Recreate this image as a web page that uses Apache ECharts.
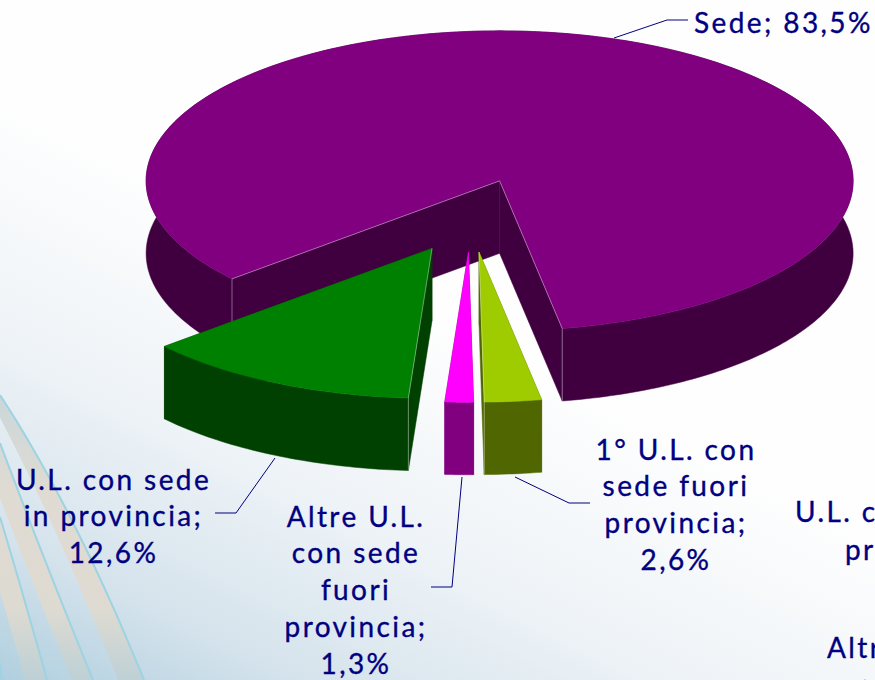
<!DOCTYPE html>
<html><head><meta charset="utf-8">
<style>html,body{margin:0;padding:0;background:#fff}#c{width:875px;height:680px;overflow:hidden}#c text{letter-spacing:2.4px;stroke:#000080;stroke-width:.35px}</style>
<script src="https://cdn.jsdelivr.net/npm/echarts@6/dist/echarts.min.js"></script>
</head><body><div id="c"></div>
<script>
// data (clockwise from the first slice)
const sliceNames = ['Sede', '1° U.L. con sede fuori provincia', 'Altre U.L. con sede fuori provincia', 'U.L. con sede in provincia'];
const sliceValues = [83.5, 2.6, 1.3, 12.6];
const sliceLabels = ['Sede; 83,5%', '1° U.L. con\nsede fuori\nprovincia;\n2,6%', 'Altre U.L.\ncon sede\nfuori\nprovincia;\n1,3%', 'U.L. con sede\nin provincia;\n12,6%'];
const topColors = ['#800080', '#9FCC00', '#FF00FF', '#008000'];
const sideColors = ['#400040', '#506600', '#800080', '#004000'];
const paintOrder = [0, 3, 2, 1];
// layout
const CX = 470.7, CY = 215.5, RX = 353.5, RY = 150, DEPTH = 72.5, EXPLODE = 0.245, FIRST_ANGLE = 229.2;
const FONT = '28px Lato, sans-serif', NAVY = '#000080', LH = 36.8;
const labelPos = [[694, 21.5, 'left'], [676, 448.5, 'center'], [356, 515.5, 'center'], [113.5, 478.5, 'center']];
const leaders = [
  [[614, 38], [667, 20], [688, 20]],
  [[515, 477], [569, 503], [590, 503]],
  [[462, 477], [452, 587], [431, 587]],
  [[275, 458], [236, 513], [215, 513]]
];
const clippedTexts = [['U.L. con sede', 795, 510.5], ['provincia;', 845, 548.5], ['Altre U.L.', 827, 646.5], ['con sede', 857, 684]];

const total = sliceValues.reduce((a, b) => a + b, 0);
const starts = []; let acc = FIRST_ANGLE;
sliceValues.forEach(v => { starts.push(acc); acc += v / total * 360; });
const rad = d => d * Math.PI / 180;

function renderItem(params, api) {
  const i = api.value(0), a0 = starts[i], a1 = a0 + api.value(1) / total * 360, mid = rad((a0 + a1) / 2);
  const ox = CX + EXPLODE * RX * Math.sin(mid), oy = CY - EXPLODE * RY * Math.cos(mid);
  const pt = (a, dz) => [ox + RX * Math.sin(rad(a)), oy - RY * Math.cos(rad(a)) + dz];
  const arc = [], n = Math.max(2, Math.ceil(a1 - a0));
  for (let k = 0; k <= n; k++) arc.push(a0 + (a1 - a0) * k / n);
  const poly = (points, fill) => ({ type: 'polygon', shape: { points }, style: { fill, stroke: fill, lineWidth: 0.5 }, silent: true });
  const edge = points => ({ type: 'polyline', shape: { points }, style: { fill: 'none', stroke: 'rgba(255,255,255,0.38)', lineWidth: 1 }, silent: true });
  const side = sideColors[i], children = [];
  [a0, a1].forEach(a => children.push(poly([[ox, oy], pt(a, 0), pt(a, DEPTH), [ox, oy + DEPTH]], side)));
  children.push(poly(arc.map(a => pt(a, 0)).concat(arc.slice().reverse().map(a => pt(a, DEPTH))), side));
  children.push(poly([[ox, oy]].concat(arc.map(a => pt(a, 0))), topColors[i]));
  if (Math.sin(rad(a0)) < 0) { children.push(edge([[ox, oy], pt(a0, 0)]), edge([pt(a0, 0), pt(a0, DEPTH)])); }
  if (Math.sin(rad(a1)) > 0) { children.push(edge([[ox, oy], pt(a1, 0)]), edge([pt(a1, 0), pt(a1, DEPTH)])); }
  return { type: 'group', children };
}

// decorative background curves: [start, control, end]
const quad = (c, steps) => {
  const out = [];
  for (let k = 0; k <= steps; k++) {
    const t = k / steps, u = 1 - t;
    out.push([u * u * c[0][0] + 2 * u * t * c[1][0] + t * t * c[2][0], u * u * c[0][1] + 2 * u * t * c[1][1] + t * t * c[2][1]]);
  }
  return out;
};
const beige = { type: 'linear', global: true, x: 0, y: 395, x2: 0, y2: 680, colorStops: [
  { offset: 0, color: 'rgba(200,212,214,0.9)' }, { offset: 0.35, color: 'rgba(224,218,207,0.9)' }, { offset: 0.75, color: 'rgba(224,218,207,0.9)' }, { offset: 1, color: 'rgba(190,208,212,0.9)' }] };
const line1 = [[0, 395], [75, 510], [144, 680]], line2 = [[0, 443], [40, 550], [93, 680]], line3 = [[0, 517], [22, 590], [47, 680]];
const bands = [
  [line1, [[-12, 395], [55, 520], [118, 680]]],
  [line2, [[-21, 443], [19, 550], [72, 680]]],
  [line3, [[-22, 517], [0, 590], [25, 680]]]
];
const blueLines = [line1, line2, line3, [[0, 663], [1, 672], [2, 680]]];
const graphics = [{
  type: 'rect', z: -10, silent: true, shape: { x: 0, y: 0, width: 875, height: 680 },
  style: { fill: { type: 'linear', global: true, x: 0, y: 100, x2: -232, y2: 564, colorStops: [
    { offset: 0, color: '#fefefe' }, { offset: 0.41, color: '#eef3f7' }, { offset: 0.74, color: '#d5e3ec' }, { offset: 1, color: '#b0cfdf' }] } }
}];
bands.forEach(b => graphics.push({ type: 'polygon', z: -9, silent: true, shape: { points: quad(b[0], 30).concat(quad(b[1], 30).reverse()) }, style: { fill: beige } }));
blueLines.forEach(c => graphics.push({ type: 'polyline', z: -8, silent: true, shape: { points: quad(c, 30) }, style: { fill: 'none', stroke: '#9dd3e3', lineWidth: 2 } }));
leaders.forEach(p => graphics.push({ type: 'polyline', z: 5, silent: true, shape: { points: p }, style: { fill: 'none', stroke: NAVY, lineWidth: 1 } }));
sliceLabels.forEach((t, i) => graphics.push({ type: 'text', z: 6, silent: true, style: { text: t, x: labelPos[i][0], y: labelPos[i][1] - LH / 2, align: labelPos[i][2], verticalAlign: 'top', lineHeight: LH, font: FONT, fill: NAVY } }));
clippedTexts.forEach(t => graphics.push({ type: 'text', z: 6, silent: true, style: { text: t[0], x: t[1], y: t[2], align: 'left', verticalAlign: 'middle', font: FONT, fill: NAVY } }));

const chart = echarts.init(document.getElementById('c'), null, { renderer: 'svg' });
chart.setOption({
  animation: false,
  graphic: graphics,
  series: [{
    type: 'custom', coordinateSystem: 'none', renderItem, silent: true,
    data: paintOrder.map(i => ({ name: sliceNames[i], value: [i, sliceValues[i]] }))
  }]
});
</script></body></html>
